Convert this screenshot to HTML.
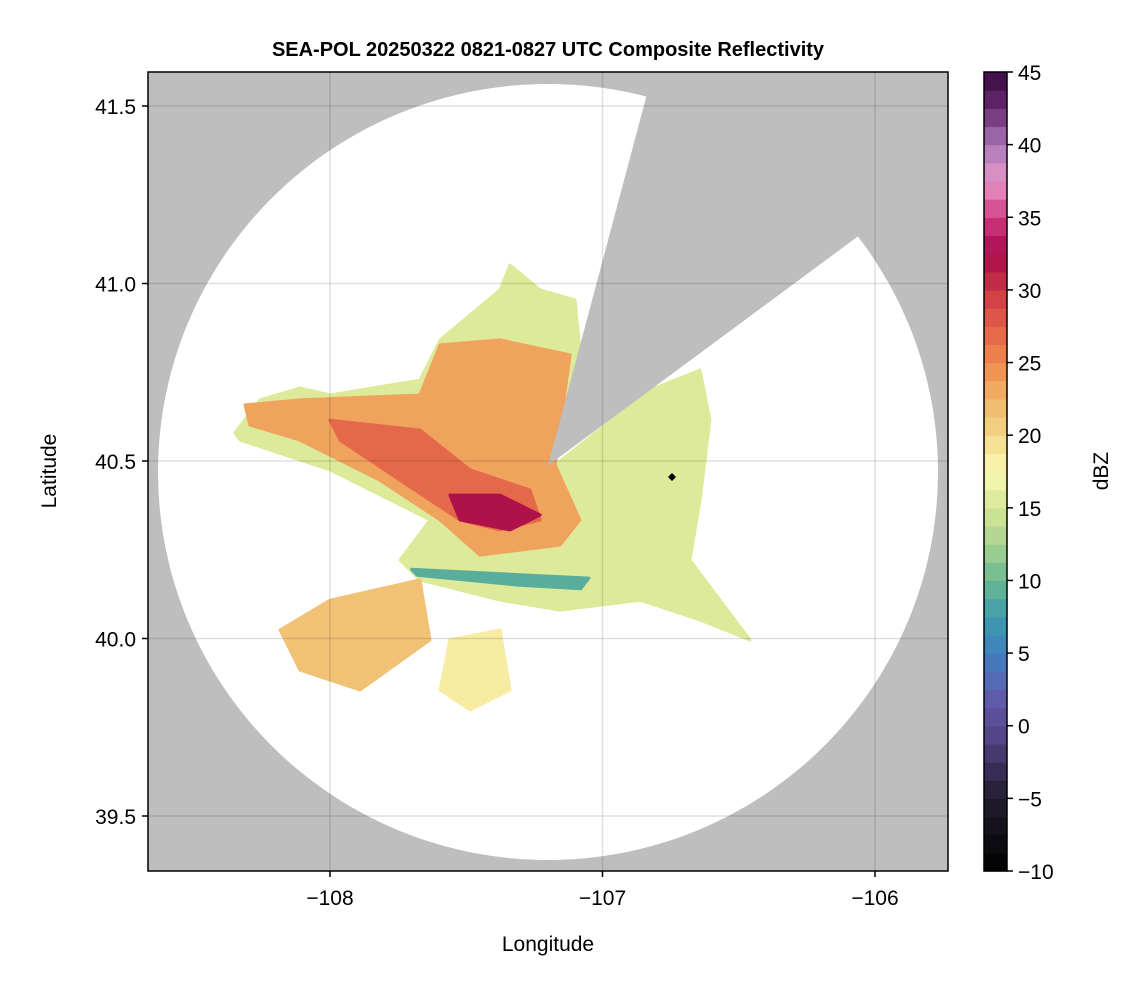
<!DOCTYPE html>
<html><head><meta charset="utf-8"><style>
body{margin:0;background:#fff;}
svg{display:block;font-family:"Liberation Sans",sans-serif;}
</style></head><body>
<svg id="chart" width="1146" height="990" viewBox="0 0 1146 990"></svg>
<script>
// ---- data ----
const lonTicks = [-108, -107, -106];
const latTicks = [39.5, 40.0, 40.5, 41.0, 41.5];
const cbTicks = [-10, -5, 0, 5, 10, 15, 20, 25, 30, 35, 40, 45];
const cmapVals = [-10,-5,0,2.5,5,7.5,10,12.5,15,17.5,20,22.5,25,27.5,30,32.5,35,37.5,40,42.5,45];
const cmapCols = ["#000000","#211c2e","#5c4a94","#5e62b0","#3f7fc0","#3e9cac","#6ab890","#a8d290","#d6e694","#fafab4","#f2d888","#f0b468","#ee8a4c","#e2604a","#cc3844","#a8084a","#d03c84","#e898c8","#a878b8","#6a2a74","#3a0a40"];
const radarLon = -107.20, radarLat = 40.487;
const echoNames = ["outer-echo","orange-echo","red-core","purple-core","sw-blob","s-blob","blue-fringe"];
const echoDbz = [15.5, 23.5, 27, 32, 21.5, 18.5, 9];
const echoLons = [
 [-108.349,-108.257,-108.110,-108.000,-107.670,-107.596,-107.376,-107.339,-107.229,-107.101,-107.083,-107.174,-106.826,-106.642,-106.606,-106.642,-106.679,-106.459,-106.642,-106.862,-107.156,-107.376,-107.670,-107.743,-107.633,-108.000,-108.330],
 [-108.312,-108.110,-107.670,-107.596,-107.376,-107.119,-107.174,-107.083,-107.156,-107.450,-107.596,-107.817,-108.110,-108.294],
 [-108.000,-107.670,-107.486,-107.266,-107.229,-107.376,-107.523,-107.743,-107.963],
 [-107.560,-107.376,-107.229,-107.339,-107.523],
 [-108.183,-108.000,-107.670,-107.633,-107.890,-108.110],
 [-107.560,-107.376,-107.339,-107.486,-107.596],
 [-107.700,-107.050,-107.080,-107.303,-107.680]
];
const echoLats = [
 [40.579,40.672,40.706,40.686,40.728,40.841,40.982,41.052,40.982,40.954,40.813,40.489,40.700,40.756,40.615,40.390,40.221,39.996,40.052,40.108,40.080,40.108,40.165,40.221,40.334,40.475,40.559],
 [40.658,40.672,40.686,40.827,40.841,40.799,40.489,40.334,40.263,40.235,40.334,40.446,40.559,40.601],
 [40.615,40.587,40.475,40.418,40.334,40.306,40.334,40.446,40.559],
 [40.404,40.404,40.348,40.306,40.334],
 [40.024,40.108,40.165,39.996,39.855,39.911],
 [39.996,40.024,39.855,39.799,39.855],
 [40.195,40.170,40.140,40.150,40.178]
];
const wedgeLons = [-106.838, -106.085];
const wedgeLats = [41.53, 41.12];
const markerLon = -106.745, markerLat = 40.455;

// ---- scales ----
const X0=148,X1=948,Y0=72,Y1=871;
const xS = lon => 330 + (lon + 108) * 272.5;
const yS = lat => 461 - (lat - 40.5) * 355;
const cbY = v => 871 - (v + 10) * (799 / 55);
function hex(c){return [1,3,5].map(i=>parseInt(c.substr(i,2),16));}
function cmap(v){
  for(let i=0;i<cmapVals.length-1;i++){
    if(v<=cmapVals[i+1]){const t=(v-cmapVals[i])/(cmapVals[i+1]-cmapVals[i]);
      const a=hex(cmapCols[i]),b=hex(cmapCols[i+1]);
      return "rgb("+a.map((x,k)=>Math.round(x+(b[k]-x)*t)).join(",")+")";}
  }
  return cmapCols[cmapCols.length-1];
}
const NS="http://www.w3.org/2000/svg";
const svg=document.getElementById("chart");
function mk(tag,attrs,parent){const e=document.createElementNS(NS,tag);for(const k in attrs)e.setAttribute(k,attrs[k]);(parent||svg).appendChild(e);return e;}

const defs=mk("defs",{});
const cp=mk("clipPath",{id:"plotclip"},defs);
mk("rect",{x:X0,y:Y0,width:X1-X0,height:Y1-Y0},cp);
const cx=xS(radarLon), cy=yS(radarLat);
const ecx=548, ecy=472, erx=390, ery=388;
const cc=mk("clipPath",{id:"circclip"},defs);
mk("ellipse",{cx:ecx,cy:ecy,rx:erx,ry:ery},cc);

const plot=mk("g",{"clip-path":"url(#plotclip)"});


const bg=mk("rect",{x:X0,y:Y0,width:X1-X0,height:Y1-Y0,fill:"#bebebe"},plot);


const cov=mk("ellipse",{cx:ecx,cy:ecy,rx:erx,ry:ery,fill:"#ffffff"},plot);


const eg=mk("g",{"clip-path":"url(#circclip)"},plot);
for(let i=0;i<echoLons.length;i++){
  const pts=echoLons[i].map((l,j)=>xS(l).toFixed(1)+","+yS(echoLats[i][j]).toFixed(1)).join(" ");
  const p=mk("polygon",{points:pts,fill:cmap(echoDbz[i]),"stroke":cmap(echoDbz[i]),"stroke-width":3,"stroke-linejoin":"round"},eg);
  
  
}
const ex=(l)=>cx+(xS(l)-cx)*3, ey=(l)=>cy+(yS(l)-cy)*3;
const wpts=[[cx,cy],[ex(wedgeLons[0]),ey(wedgeLats[0])],[ex(wedgeLons[1]),ey(wedgeLats[1])]].map(p=>p.join(",")).join(" ");
const wedge=mk("polygon",{points:wpts,fill:"#bebebe"},plot);


const mx=xS(markerLon),my=yS(markerLat);
const mark=mk("polygon",{points:`${mx},${my-4} ${mx+4},${my} ${mx},${my+4} ${mx-4},${my}`,fill:"#000"},plot);


lonTicks.forEach(t=>{const g=mk("line",{x1:xS(t),x2:xS(t),y1:Y0,y2:Y1,stroke:"#000","stroke-opacity":0.12,"stroke-width":1.5},plot);
  });
latTicks.forEach(t=>{const g=mk("line",{x1:X0,x2:X1,y1:yS(t),y2:yS(t),stroke:"#000","stroke-opacity":0.12,"stroke-width":1.5},plot);
  });
const frame=mk("rect",{x:X0,y:Y0,width:X1-X0,height:Y1-Y0,fill:"none",stroke:"#000","stroke-width":1.5});


lonTicks.forEach(t=>{mk("line",{x1:xS(t),x2:xS(t),y1:Y1,y2:Y1+6,stroke:"#000","stroke-width":1.5});
  const tx=mk("text",{x:xS(t),y:Y1+34,"text-anchor":"middle","font-size":21});tx.textContent="\u2212"+Math.abs(t);
  });
latTicks.forEach(t=>{mk("line",{x1:X0-6,x2:X0,y1:yS(t),y2:yS(t),stroke:"#000","stroke-width":1.5});
  const tx=mk("text",{x:X0-12,y:yS(t)+8,"text-anchor":"end","font-size":21});tx.textContent=t.toFixed(1);
  });
const title=mk("text",{x:548,y:56,"text-anchor":"middle","font-size":20,"font-weight":"bold"});
title.textContent="SEA-POL 20250322 0821-0827 UTC Composite Reflectivity";

const xl=mk("text",{x:548,y:951,"text-anchor":"middle","font-size":21});xl.textContent="Longitude";

const yl=mk("text",{x:56,y:471,"text-anchor":"middle","font-size":21,transform:"rotate(-90 56 471)"});yl.textContent="Latitude";

const cb=mk("g",{});

for(let v=-10;v<45;v+=1.25){
  mk("rect",{x:984,y:cbY(v+1.25),width:23,height:cbY(v)-cbY(v+1.25)+0.6,fill:cmap(v+0.625)},cb);
}
mk("rect",{x:984,y:Y0,width:23,height:Y1-Y0,fill:"none",stroke:"#000","stroke-width":1.5},cb);
cbTicks.forEach(t=>{mk("line",{x1:1007,x2:1013,y1:cbY(t),y2:cbY(t),stroke:"#000","stroke-width":1.5},cb);
  const tx=mk("text",{x:1018,y:cbY(t)+8,"font-size":21},cb);tx.textContent=(t<0?"\u2212":"")+Math.abs(t);
  });
const cl=mk("text",{x:1108,y:471,"text-anchor":"middle","font-size":21,transform:"rotate(-90 1108 471)"});cl.textContent="dBZ";

</script>
</body></html>
